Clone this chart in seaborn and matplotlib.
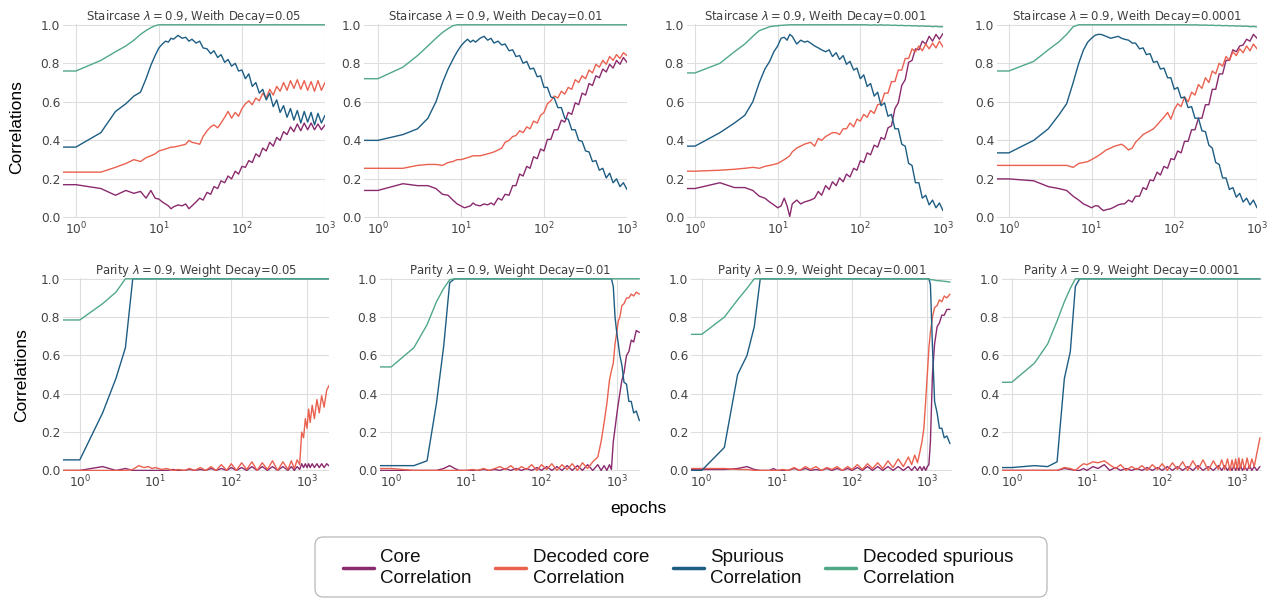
import numpy as np
import pandas as pd
import matplotlib
matplotlib.use("Agg")
import matplotlib.pyplot as plt
from matplotlib.lines import Line2D
from matplotlib.patches import FancyBboxPatch
import seaborn as sns

# ---------------------------------------------------------------- data
SERIES = ["Core Correlation", "Decoded core Correlation",
          "Spurious Correlation", "Decoded spurious Correlation"]
COLORS = ["#8a2a6e", "#ea6150", "#1d5d84", "#50a887"]
LEGEND_LABELS = ["Core\nCorrelation", "Decoded core\nCorrelation",
                 "Spurious\nCorrelation", "Decoded spurious\nCorrelation"]

TOP_TITLES = [r"Staircase $\lambda = 0.9$, Weith Decay=0.05",
              r"Staircase $\lambda = 0.9$, Weith Decay=0.01",
              r"Staircase $\lambda = 0.9$, Weith Decay=0.001",
              r"Staircase $\lambda = 0.9$, Weith Decay=0.0001"]
BOTTOM_TITLES = [r"Parity $\lambda = 0.9$, Weight Decay=0.05",
                 r"Parity $\lambda = 0.9$, Weight Decay=0.01",
                 r"Parity $\lambda = 0.9$, Weight Decay=0.001",
                 r"Parity $\lambda = 0.9$, Weight Decay=0.0001"]

TOP_EPOCHS = [0.5, 1, 2, 3, 4, 5, 6, 7, 8, 9, 10,
              11, 12, 13, 14, 15, 17, 19, 21, 23, 25,
              28, 31, 34, 38, 42, 46, 51, 56, 62, 68, 75, 83, 91, 100,
              110, 121, 133, 147, 162, 178, 196, 216, 238, 262, 288, 317,
              349, 384, 422, 464, 511, 562, 618, 680, 748, 823, 905, 1000]

BOTTOM_EPOCHS = [0.5, 1, 2, 3, 4, 5, 6, 7, 8, 9, 10,
                 12, 14, 17, 20, 24, 28, 33, 39, 46, 54, 63, 74, 87,
                 100, 117, 137, 160, 187, 219, 256, 300, 350, 410, 480, 560,
                 620, 680, 740, 800, 850, 900, 950, 1000, 1050, 1100,
                 1170, 1250, 1350, 1450, 1560, 1680, 1820, 2000]

# Staircase, weight decay 0.05
stair_05_core = [0.17, 0.17, 0.15, 0.115, 0.14, 0.125, 0.135, 0.10, 0.14, 0.10, 0.095,
                 0.08, 0.07, 0.06, 0.045, 0.055, 0.065, 0.06, 0.07, 0.045, 0.06,
                 0.08, 0.10, 0.09, 0.13, 0.12, 0.16, 0.15, 0.19, 0.18, 0.215, 0.20, 0.24, 0.225, 0.265,
                 0.26, 0.295, 0.285, 0.33, 0.315, 0.36, 0.345, 0.39, 0.37, 0.415, 0.40, 0.445,
                 0.43, 0.47, 0.445, 0.485, 0.45, 0.49, 0.455, 0.49, 0.455, 0.485, 0.455, 0.48]
stair_05_dcore = [0.235, 0.235, 0.235, 0.26, 0.28, 0.30, 0.29, 0.31, 0.32, 0.33, 0.345,
                  0.35, 0.355, 0.36, 0.365, 0.365, 0.37, 0.375, 0.38, 0.40, 0.39,
                  0.385, 0.38, 0.42, 0.45, 0.47, 0.48, 0.465, 0.49, 0.52, 0.55, 0.515, 0.545, 0.525, 0.565,
                  0.59, 0.605, 0.585, 0.62, 0.605, 0.645, 0.62, 0.665, 0.635, 0.68, 0.655, 0.70,
                  0.66, 0.71, 0.67, 0.715, 0.665, 0.71, 0.66, 0.705, 0.655, 0.71, 0.66, 0.70]
stair_05_spur = [0.365, 0.365, 0.44, 0.55, 0.59, 0.63, 0.65, 0.72, 0.79, 0.84, 0.88,
                 0.90, 0.915, 0.91, 0.93, 0.925, 0.945, 0.93, 0.935, 0.915, 0.925,
                 0.905, 0.915, 0.88, 0.875, 0.85, 0.865, 0.83, 0.845, 0.805, 0.82, 0.785, 0.80, 0.76, 0.765,
                 0.72, 0.745, 0.68, 0.70, 0.645, 0.665, 0.61, 0.645, 0.575, 0.61, 0.545, 0.58,
                 0.52, 0.565, 0.505, 0.555, 0.49, 0.55, 0.495, 0.545, 0.48, 0.54, 0.49, 0.53]
stair_05_dspur = [0.76, 0.76, 0.815, 0.86, 0.89, 0.92, 0.95, 0.97, 0.985, 0.995, 1.0,
                  1.0, 1.0, 1.0, 1.0, 1.0, 1.0, 1.0, 1.0, 1.0, 1.0,
                  1.0, 1.0, 1.0, 1.0, 1.0, 1.0, 1.0, 1.0, 1.0, 1.0, 1.0, 1.0, 1.0, 1.0,
                  1.0, 1.0, 1.0, 1.0, 1.0, 1.0, 1.0, 1.0, 1.0, 1.0, 1.0, 1.0,
                  1.0, 1.0, 1.0, 1.0, 1.0, 1.0, 1.0, 1.0, 1.0, 1.0, 1.0, 1.0]

# Staircase, weight decay 0.01
stair_01_core = [0.14, 0.14, 0.175, 0.165, 0.165, 0.15, 0.12, 0.115, 0.09, 0.07, 0.06,
                 0.05, 0.055, 0.06, 0.075, 0.065, 0.06, 0.07, 0.065, 0.075, 0.065,
                 0.10, 0.09, 0.12, 0.115, 0.165, 0.165, 0.225, 0.215, 0.265, 0.255, 0.315, 0.305, 0.355, 0.345,
                 0.405, 0.405, 0.455, 0.455, 0.505, 0.495, 0.545, 0.535, 0.595, 0.585, 0.645, 0.635,
                 0.695, 0.685, 0.735, 0.725, 0.77, 0.755, 0.795, 0.775, 0.815, 0.795, 0.83, 0.805]
stair_01_dcore = [0.255, 0.255, 0.255, 0.27, 0.275, 0.275, 0.27, 0.285, 0.29, 0.30, 0.30,
                  0.305, 0.31, 0.315, 0.32, 0.32, 0.32, 0.325, 0.33, 0.335, 0.34,
                  0.35, 0.36, 0.39, 0.40, 0.42, 0.425, 0.45, 0.44, 0.47, 0.46, 0.50, 0.49, 0.53, 0.545,
                  0.59, 0.605, 0.63, 0.62, 0.655, 0.64, 0.675, 0.665, 0.715, 0.70, 0.735, 0.72,
                  0.765, 0.75, 0.795, 0.78, 0.815, 0.795, 0.835, 0.815, 0.845, 0.825, 0.855, 0.84]
stair_01_spur = [0.40, 0.40, 0.43, 0.46, 0.515, 0.60, 0.70, 0.77, 0.82, 0.86, 0.89,
                 0.91, 0.925, 0.91, 0.92, 0.91, 0.93, 0.94, 0.92, 0.93, 0.905,
                 0.915, 0.895, 0.90, 0.865, 0.87, 0.835, 0.84, 0.80, 0.81, 0.77, 0.775, 0.73, 0.735, 0.675,
                 0.675, 0.625, 0.62, 0.57, 0.57, 0.515, 0.51, 0.455, 0.455, 0.40, 0.395, 0.345,
                 0.34, 0.29, 0.295, 0.245, 0.255, 0.205, 0.23, 0.18, 0.20, 0.16, 0.18, 0.145]
stair_01_dspur = [0.72, 0.72, 0.78, 0.84, 0.89, 0.93, 0.96, 0.98, 0.995, 1.0, 1.0,
                  1.0, 1.0, 1.0, 1.0, 1.0, 1.0, 1.0, 1.0, 1.0, 1.0,
                  1.0, 1.0, 1.0, 1.0, 1.0, 1.0, 1.0, 1.0, 1.0, 1.0, 1.0, 1.0, 1.0, 1.0,
                  1.0, 1.0, 1.0, 1.0, 1.0, 1.0, 1.0, 1.0, 1.0, 1.0, 1.0, 1.0,
                  1.0, 1.0, 1.0, 1.0, 1.0, 1.0, 1.0, 1.0, 1.0, 1.0, 1.0, 1.0]

# Staircase, weight decay 0.001
stair_001_core = [0.15, 0.15, 0.18, 0.155, 0.155, 0.14, 0.11, 0.10, 0.08, 0.065, 0.05,
                  0.06, 0.10, 0.06, 0.005, 0.07, 0.09, 0.07, 0.08, 0.085, 0.09,
                  0.10, 0.135, 0.115, 0.165, 0.145, 0.185, 0.165, 0.205, 0.185, 0.225, 0.21, 0.255, 0.245, 0.295,
                  0.285, 0.335, 0.325, 0.375, 0.365, 0.415, 0.405, 0.465, 0.475, 0.565, 0.595, 0.685,
                  0.715, 0.805, 0.815, 0.875, 0.87, 0.915, 0.90, 0.94, 0.915, 0.95, 0.925, 0.955]
stair_001_dcore = [0.24, 0.24, 0.245, 0.25, 0.255, 0.26, 0.255, 0.265, 0.27, 0.275, 0.28,
                   0.29, 0.30, 0.31, 0.32, 0.34, 0.36, 0.37, 0.38, 0.385, 0.39,
                   0.37, 0.41, 0.40, 0.42, 0.43, 0.44, 0.44, 0.43, 0.46, 0.46, 0.49, 0.47, 0.51, 0.50,
                   0.535, 0.52, 0.555, 0.54, 0.585, 0.59, 0.645, 0.645, 0.705, 0.705, 0.765, 0.765,
                   0.825, 0.825, 0.875, 0.86, 0.89, 0.865, 0.90, 0.875, 0.905, 0.88, 0.915, 0.885]
stair_001_spur = [0.37, 0.37, 0.44, 0.49, 0.53, 0.60, 0.70, 0.77, 0.81, 0.86, 0.89,
                  0.93, 0.935, 0.92, 0.95, 0.94, 0.90, 0.92, 0.91, 0.915, 0.905,
                  0.89, 0.88, 0.87, 0.86, 0.87, 0.835, 0.855, 0.82, 0.84, 0.795, 0.81, 0.765, 0.775, 0.72,
                  0.74, 0.68, 0.695, 0.63, 0.65, 0.58, 0.595, 0.525, 0.535, 0.46, 0.46, 0.38,
                  0.37, 0.28, 0.27, 0.18, 0.18, 0.10, 0.115, 0.065, 0.09, 0.05, 0.075, 0.035]
stair_001_dspur = [0.75, 0.75, 0.80, 0.86, 0.90, 0.94, 0.97, 0.98, 0.99, 0.993, 0.995,
                   0.997, 0.998, 0.999, 1.0, 1.0, 1.0, 1.0, 1.0, 1.0, 1.0,
                   1.0, 1.0, 1.0, 1.0, 1.0, 1.0, 1.0, 1.0, 1.0, 1.0, 1.0, 1.0, 1.0, 1.0,
                   1.0, 1.0, 0.998, 1.0, 0.998, 1.0, 0.998, 0.999, 0.997, 0.998, 0.996, 0.997,
                   0.995, 0.996, 0.994, 0.995, 0.993, 0.994, 0.992, 0.993, 0.99, 0.992, 0.989, 0.99]

# Staircase, weight decay 0.0001
stair_0001_core = [0.20, 0.20, 0.19, 0.16, 0.15, 0.14, 0.11, 0.09, 0.07, 0.06, 0.05,
                   0.06, 0.06, 0.045, 0.035, 0.04, 0.045, 0.055, 0.065, 0.07, 0.07,
                   0.09, 0.08, 0.11, 0.11, 0.155, 0.145, 0.195, 0.19, 0.235, 0.22, 0.265, 0.255, 0.305, 0.30,
                   0.345, 0.335, 0.395, 0.395, 0.455, 0.455, 0.515, 0.515, 0.585, 0.585, 0.665, 0.665,
                   0.745, 0.745, 0.815, 0.815, 0.87, 0.86, 0.89, 0.895, 0.925, 0.915, 0.95, 0.93]
stair_0001_dcore = [0.27, 0.27, 0.27, 0.27, 0.27, 0.27, 0.26, 0.28, 0.285, 0.29, 0.30,
                    0.31, 0.32, 0.33, 0.34, 0.35, 0.36, 0.37, 0.375, 0.38, 0.37,
                    0.35, 0.36, 0.39, 0.41, 0.43, 0.44, 0.45, 0.46, 0.48, 0.50, 0.52, 0.545, 0.51, 0.56,
                    0.59, 0.575, 0.625, 0.60, 0.65, 0.635, 0.69, 0.67, 0.725, 0.70, 0.76, 0.745,
                    0.80, 0.785, 0.835, 0.815, 0.86, 0.84, 0.875, 0.855, 0.89, 0.865, 0.90, 0.875]
stair_0001_spur = [0.335, 0.335, 0.40, 0.46, 0.53, 0.59, 0.70, 0.80, 0.87, 0.91, 0.93,
                   0.945, 0.95, 0.95, 0.945, 0.94, 0.93, 0.935, 0.94, 0.93, 0.925,
                   0.92, 0.905, 0.905, 0.875, 0.88, 0.845, 0.85, 0.805, 0.81, 0.77, 0.775, 0.725, 0.725, 0.665,
                   0.675, 0.62, 0.625, 0.57, 0.575, 0.515, 0.515, 0.45, 0.445, 0.375, 0.36, 0.285,
                   0.275, 0.205, 0.205, 0.145, 0.155, 0.105, 0.125, 0.08, 0.10, 0.065, 0.09, 0.05]
stair_0001_dspur = [0.76, 0.76, 0.81, 0.87, 0.91, 0.95, 0.99, 1.0, 1.0, 1.0, 1.0,
                    1.0, 1.0, 1.0, 1.0, 1.0, 1.0, 1.0, 1.0, 1.0, 1.0,
                    1.0, 1.0, 1.0, 1.0, 1.0, 1.0, 1.0, 1.0, 1.0, 1.0, 1.0, 1.0, 1.0, 1.0,
                    1.0, 1.0, 1.0, 1.0, 0.999, 1.0, 0.999, 0.998, 0.999, 0.997, 0.998, 0.996,
                    0.997, 0.995, 0.996, 0.994, 0.995, 0.993, 0.994, 0.992, 0.993, 0.99, 0.991, 0.989]

# Parity, weight decay 0.05
parity_05_core = [0.0, 0.0, 0.02, 0.0, 0.01, 0.0, 0.0, 0.0, 0.0, 0.0, 0.0,
                  0.0, 0.0, 0.005, 0.0, 0.0, 0.005, 0.0, 0.005, 0.0, 0.01, 0.0, 0.01, 0.0,
                  0.015, 0.0, 0.015, 0.0, 0.02, 0.0, 0.02, 0.0, 0.02, 0.0, 0.02, 0.0,
                  0.02, 0.0, 0.02, 0.005, 0.035, 0.015, 0.035, 0.015, 0.035, 0.015,
                  0.035, 0.015, 0.035, 0.015, 0.035, 0.015, 0.035, 0.02]
parity_05_dcore = [0.0, 0.0, 0.0, 0.0, 0.0, 0.005, 0.025, 0.015, 0.02, 0.01, 0.015,
                   0.005, 0.01, 0.0, 0.005, 0.0, 0.01, 0.0, 0.015, 0.0, 0.02, 0.0, 0.03, 0.0,
                   0.035, 0.0, 0.04, 0.005, 0.045, 0.0, 0.04, 0.005, 0.05, 0.0, 0.045, 0.005,
                   0.05, 0.01, 0.055, 0.03, 0.20, 0.17, 0.27, 0.22, 0.32, 0.25,
                   0.34, 0.27, 0.37, 0.30, 0.39, 0.33, 0.42, 0.45]
parity_05_spur = [0.055, 0.055, 0.30, 0.48, 0.64, 1.0, 1.0, 1.0, 1.0, 1.0, 1.0,
                  1.0, 1.0, 1.0, 1.0, 1.0, 1.0, 1.0, 1.0, 1.0, 1.0, 1.0, 1.0, 1.0,
                  1.0, 1.0, 1.0, 1.0, 1.0, 1.0, 1.0, 1.0, 1.0, 1.0, 1.0, 1.0,
                  1.0, 1.0, 1.0, 1.0, 1.0, 1.0, 1.0, 1.0, 1.0, 1.0,
                  1.0, 1.0, 1.0, 1.0, 1.0, 1.0, 1.0, 1.0]
parity_05_dspur = [0.785, 0.785, 0.87, 0.93, 1.0, 1.0, 1.0, 1.0, 1.0, 1.0, 1.0,
                   1.0, 1.0, 1.0, 1.0, 1.0, 1.0, 1.0, 1.0, 1.0, 1.0, 1.0, 1.0, 1.0,
                   1.0, 1.0, 1.0, 1.0, 1.0, 1.0, 1.0, 1.0, 1.0, 1.0, 1.0, 1.0,
                   1.0, 1.0, 1.0, 1.0, 1.0, 1.0, 1.0, 1.0, 1.0, 1.0,
                   1.0, 1.0, 1.0, 1.0, 1.0, 1.0, 1.0, 1.0]

# Parity, weight decay 0.01
parity_01_core = [0.0, 0.0, 0.0, 0.0, 0.0, 0.01, 0.025, 0.01, 0.0, 0.0, 0.0,
                  0.0, 0.0, 0.005, 0.0, 0.005, 0.0, 0.01, 0.0, 0.01, 0.0, 0.01, 0.0, 0.015,
                  0.0, 0.02, 0.0, 0.02, 0.0, 0.025, 0.0, 0.025, 0.0, 0.03, 0.0, 0.03,
                  0.0, 0.025, 0.0, 0.03, 0.005, 0.15, 0.22, 0.29, 0.35, 0.40,
                  0.47, 0.51, 0.60, 0.62, 0.68, 0.67, 0.73, 0.72]
parity_01_dcore = [0.01, 0.01, 0.0, 0.0, 0.0, 0.0, 0.0, 0.0, 0.0, 0.0, 0.0,
                   0.005, 0.0, 0.01, 0.0, 0.01, 0.02, 0.005, 0.025, 0.0, 0.02, 0.005, 0.03, 0.0,
                   0.03, 0.005, 0.035, 0.0, 0.03, 0.005, 0.035, 0.0, 0.04, 0.01, 0.045, 0.07,
                   0.15, 0.25, 0.35, 0.47, 0.52, 0.56, 0.66, 0.72, 0.78, 0.80,
                   0.86, 0.87, 0.90, 0.90, 0.92, 0.91, 0.93, 0.92]
parity_01_spur = [0.025, 0.025, 0.025, 0.05, 0.35, 0.65, 0.98, 1.0, 1.0, 1.0, 1.0,
                  1.0, 1.0, 1.0, 1.0, 1.0, 1.0, 1.0, 1.0, 1.0, 1.0, 1.0, 1.0, 1.0,
                  1.0, 1.0, 1.0, 1.0, 1.0, 1.0, 1.0, 1.0, 1.0, 1.0, 1.0, 1.0,
                  1.0, 1.0, 1.0, 1.0, 1.0, 0.96, 0.80, 0.72, 0.66, 0.60,
                  0.55, 0.46, 0.45, 0.36, 0.36, 0.30, 0.31, 0.26]
parity_01_dspur = [0.54, 0.54, 0.64, 0.76, 0.88, 0.95, 0.995, 1.0, 1.0, 1.0, 1.0,
                   1.0, 1.0, 1.0, 1.0, 1.0, 1.0, 1.0, 1.0, 1.0, 1.0, 1.0, 1.0, 1.0,
                   1.0, 1.0, 1.0, 1.0, 1.0, 1.0, 1.0, 1.0, 1.0, 1.0, 1.0, 1.0,
                   1.0, 1.0, 1.0, 1.0, 1.0, 1.0, 1.0, 1.0, 1.0, 1.0,
                   1.0, 1.0, 1.0, 1.0, 1.0, 1.0, 1.0, 1.0]

# Parity, weight decay 0.001
parity_001_core = [0.005, 0.005, 0.005, 0.01, 0.02, 0.005, 0.0, 0.0, 0.0, 0.01, 0.0,
                   0.0, 0.0, 0.01, 0.0, 0.01, 0.0, 0.005, 0.0, 0.01, 0.0, 0.01, 0.0, 0.01,
                   0.0, 0.015, 0.0, 0.02, 0.0, 0.02, 0.0, 0.02, 0.0, 0.02, 0.0, 0.02,
                   0.0, 0.02, 0.0, 0.02, 0.0, 0.02, 0.0, 0.02, 0.03, 0.15,
                   0.50, 0.66, 0.75, 0.77, 0.81, 0.81, 0.84, 0.84]
parity_001_dcore = [0.01, 0.01, 0.01, 0.005, 0.005, 0.0, 0.0, 0.0, 0.0, 0.0, 0.0,
                    0.005, 0.0, 0.015, 0.0, 0.02, 0.005, 0.02, 0.0, 0.015, 0.005, 0.02, 0.0, 0.02,
                    0.005, 0.03, 0.005, 0.035, 0.01, 0.04, 0.01, 0.05, 0.015, 0.06, 0.02, 0.07,
                    0.03, 0.08, 0.04, 0.10, 0.15, 0.22, 0.36, 0.50, 0.64, 0.72,
                    0.80, 0.85, 0.86, 0.89, 0.88, 0.91, 0.90, 0.92]
parity_001_spur = [0.0, 0.0, 0.12, 0.50, 0.60, 0.75, 1.0, 1.0, 1.0, 1.0, 1.0,
                   1.0, 1.0, 1.0, 1.0, 1.0, 1.0, 1.0, 1.0, 1.0, 1.0, 1.0, 1.0, 1.0,
                   1.0, 1.0, 1.0, 1.0, 1.0, 1.0, 1.0, 1.0, 1.0, 1.0, 1.0, 1.0,
                   1.0, 1.0, 1.0, 1.0, 1.0, 1.0, 1.0, 1.0, 1.0, 0.97,
                   0.65, 0.36, 0.30, 0.22, 0.22, 0.17, 0.18, 0.14]
parity_001_dspur = [0.71, 0.71, 0.80, 0.89, 0.95, 1.0, 1.0, 1.0, 1.0, 1.0, 1.0,
                    1.0, 1.0, 1.0, 1.0, 1.0, 1.0, 1.0, 1.0, 1.0, 1.0, 1.0, 1.0, 1.0,
                    1.0, 1.0, 1.0, 1.0, 1.0, 1.0, 1.0, 1.0, 1.0, 1.0, 1.0, 1.0,
                    1.0, 1.0, 1.0, 1.0, 1.0, 1.0, 1.0, 1.0, 0.998, 0.995,
                    0.995, 0.993, 0.99, 0.99, 0.988, 0.987, 0.985, 0.983]

# Parity, weight decay 0.0001
parity_0001_core = [0.0, 0.0, 0.0, 0.0, 0.0, 0.01, 0.005, 0.0, 0.0, 0.01, 0.0,
                    0.02, 0.01, 0.03, 0.0, 0.015, 0.0, 0.01, 0.0, 0.01, 0.0, 0.015, 0.0, 0.015,
                    0.0, 0.02, 0.0, 0.02, 0.0, 0.02, 0.0, 0.025, 0.0, 0.02, 0.0, 0.025,
                    0.0, 0.025, 0.0, 0.02, 0.0, 0.025, 0.0, 0.02, 0.0, 0.025,
                    0.0, 0.02, 0.0, 0.025, 0.0, 0.02, 0.0, 0.02]
parity_0001_dcore = [0.0, 0.0, 0.0, 0.0, 0.0, 0.015, 0.01, 0.0, 0.02, 0.035, 0.03,
                     0.045, 0.04, 0.05, 0.03, 0.01, 0.03, 0.0, 0.02, 0.005, 0.025, 0.0, 0.03, 0.005,
                     0.035, 0.0, 0.04, 0.005, 0.045, 0.0, 0.05, 0.005, 0.055, 0.0, 0.05, 0.005,
                     0.055, 0.005, 0.06, 0.0, 0.055, 0.01, 0.06, 0.005, 0.065, 0.01,
                     0.06, 0.005, 0.065, 0.01, 0.06, 0.02, 0.09, 0.17]
parity_0001_spur = [0.015, 0.015, 0.025, 0.02, 0.045, 0.48, 0.62, 0.96, 1.0, 1.0, 1.0,
                    1.0, 1.0, 1.0, 1.0, 1.0, 1.0, 1.0, 1.0, 1.0, 1.0, 1.0, 1.0, 1.0,
                    1.0, 1.0, 1.0, 1.0, 1.0, 1.0, 1.0, 1.0, 1.0, 1.0, 1.0, 1.0,
                    1.0, 1.0, 1.0, 1.0, 1.0, 1.0, 1.0, 1.0, 1.0, 1.0,
                    1.0, 1.0, 1.0, 1.0, 1.0, 1.0, 1.0, 1.0]
parity_0001_dspur = [0.46, 0.46, 0.56, 0.66, 0.78, 0.88, 0.95, 1.0, 1.0, 1.0, 1.0,
                     1.0, 1.0, 1.0, 1.0, 1.0, 1.0, 1.0, 1.0, 1.0, 1.0, 1.0, 1.0, 1.0,
                     1.0, 1.0, 1.0, 1.0, 1.0, 1.0, 1.0, 1.0, 1.0, 1.0, 1.0, 1.0,
                     1.0, 1.0, 1.0, 1.0, 1.0, 1.0, 1.0, 1.0, 1.0, 1.0,
                     1.0, 1.0, 1.0, 1.0, 1.0, 1.0, 1.0, 1.0]

TOP_PANELS = [
    [stair_05_core, stair_05_dcore, stair_05_spur, stair_05_dspur],
    [stair_01_core, stair_01_dcore, stair_01_spur, stair_01_dspur],
    [stair_001_core, stair_001_dcore, stair_001_spur, stair_001_dspur],
    [stair_0001_core, stair_0001_dcore, stair_0001_spur, stair_0001_dspur],
]
BOTTOM_PANELS = [
    [parity_05_core, parity_05_dcore, parity_05_spur, parity_05_dspur],
    [parity_01_core, parity_01_dcore, parity_01_spur, parity_01_dspur],
    [parity_001_core, parity_001_dcore, parity_001_spur, parity_001_dspur],
    [parity_0001_core, parity_0001_dcore, parity_0001_spur, parity_0001_dspur],
]

# ---------------------------------------------------------------- layout
W, H = 1276, 601
# axes boxes in pixels: (left, right), rows share top/bottom
TOP_X = [(63, 325), (364, 627), (687, 943), (997, 1257)]
BOT_X = [(63, 329), (380, 640), (691, 952), (1002, 1262)]
TOP_Y = (24, 218)
BOT_Y = (278, 471)
TOP_XLIM = [(0.70, 1000), (0.68, 1000), (0.80, 1000), (0.72, 1000)]
BOT_XLIM = [(0.60, 1950), (0.71, 2040), (0.72, 2130), (0.74, 2130)]

sns.set_theme(style="whitegrid")
plt.rcParams["font.family"] = ["DejaVu Sans"]

fig = plt.figure(figsize=(W / 100, H / 100), dpi=100)


def box(xpix, ypix):
    l, r = xpix
    t, b = ypix
    return [l / W, 1 - b / H, (r - l) / W, (b - t) / H]


def draw_panel(ax, epochs, series_values, title, xlim):
    frames = []
    for name, vals in zip(SERIES, series_values):
        if len(vals) != len(epochs):
            raise ValueError(f"{title}: {name} has {len(vals)} values, expected {len(epochs)}")
        frames.append(pd.DataFrame({"epoch": epochs, "corr": vals, "series": name}))
    df = pd.concat(frames, ignore_index=True)
    sns.lineplot(data=df, x="epoch", y="corr", hue="series", hue_order=SERIES,
                 palette=COLORS, legend=False, linewidth=1.0, estimator=None,
                 sort=True, ax=ax)
    ax.set_xscale("log")
    ax.set_xlim(*xlim)
    ax.set_ylim(-0.003, 1.004)
    ax.set_yticks([0.0, 0.2, 0.4, 0.6, 0.8, 1.0])
    ax.set_yticklabels(["0.0", "0.2", "0.4", "0.6", "0.8", "1.0"])
    ax.set_xticks([1, 10, 100, 1000])
    ax.xaxis.set_minor_locator(matplotlib.ticker.NullLocator())
    ax.set_xlabel("")
    ax.set_ylabel("")
    ax.set_title(title, fontsize=8.4, color="#3f3f3f", pad=3)
    ax.tick_params(axis="both", labelsize=8.8, colors="#444444", pad=2, length=0)
    ax.grid(True, color="#dedede", linewidth=0.8)
    for s in ax.spines.values():
        s.set_visible(False)


for i in range(4):
    ax = fig.add_axes(box(TOP_X[i], TOP_Y))
    draw_panel(ax, TOP_EPOCHS, TOP_PANELS[i], TOP_TITLES[i], TOP_XLIM[i])
for i in range(4):
    ax = fig.add_axes(box(BOT_X[i], BOT_Y))
    draw_panel(ax, BOTTOM_EPOCHS, BOTTOM_PANELS[i], BOTTOM_TITLES[i], BOT_XLIM[i])

label_font = ["Liberation Sans", "DejaVu Sans"]
fig.text(17 / W, 1 - 127 / H, "Correlations", rotation=90, ha="center", va="center",
         fontsize=12.5, color="black", family=label_font)
fig.text(22 / W, 1 - 375 / H, "Correlations", rotation=90, ha="center", va="center",
         fontsize=12.5, color="black", family=label_font)
fig.text(638 / W, 1 - 509 / H, "epochs", ha="center", va="center",
         fontsize=12.5, color="black", family=label_font)

# legend frame: a rounded box drawn separately so its padding can be wider than tall
frame = FancyBboxPatch((315 / W, 1 - 597 / H), (1047 - 315) / W, (597 - 537) / H,
                       boxstyle="round,pad=0,rounding_size=0.0065",
                       transform=fig.transFigure, facecolor="white",
                       edgecolor="#b8b8b8", linewidth=0.9, zorder=1,
                       mutation_aspect=W / H)
fig.patches.append(frame)

handles = [Line2D([0], [0], color=c, linewidth=2.5) for c in COLORS]
leg = fig.legend(handles, LEGEND_LABELS, loc="center",
                 bbox_to_anchor=(678 / W, 1 - 568 / H),
                 ncol=4, frameon=False,
                 prop={"family": label_font, "size": 13.5},
                 handlelength=1.65, handletextpad=0.35, columnspacing=1.25,
                 borderpad=0.2, labelspacing=0.2)
for t in leg.get_texts():
    t.set_color("#111111")
    t.set_linespacing(1.3)

fig.savefig("out.png", dpi=100)
